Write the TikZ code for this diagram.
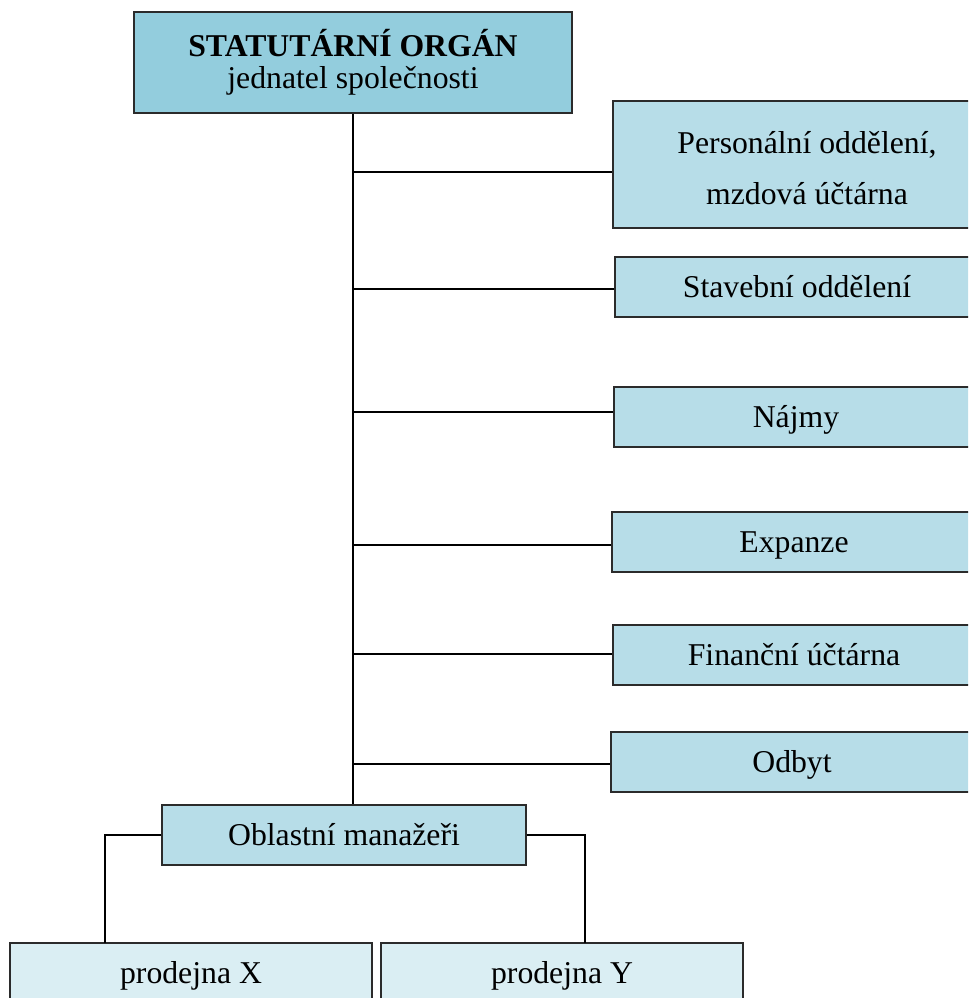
\documentclass[tikz,border=0pt]{standalone}
\usepackage{fontspec}
\setmainfont{Liberation Serif}
\definecolor{topblue}{HTML}{93CDDD}
\definecolor{midblue}{HTML}{B7DDE8}
\definecolor{lowblue}{HTML}{DAEEF3}
\definecolor{edge}{HTML}{2B2B2B}
\begin{document}
\begin{tikzpicture}[x=0.75pt,y=-0.75pt,
  box/.style={draw=edge,line width=1.1pt,inner sep=0pt,align=center,
    font=\fontsize{23.8}{24}\selectfont,minimum height=60*0.75pt},
  oneline/.style={text height=17pt,text depth=2pt},
  topbox/.style={box,fill=topblue},
  midbox/.style={box,fill=midblue},
  lowbox/.style={box,fill=lowblue,oneline},
  trunk/.style={line width=1.3pt,black},
  thin/.style={line width=0.8pt,black}]
\clip (0,0) rectangle (968,998);
\fill[white] (0,0) rectangle (968,998);
% boxes
\node[topbox,minimum width=438*0.75pt,minimum height=101*0.75pt] (top) at (353,62.5)
  {\textbf{STATUTÁRNÍ ORGÁN}\\jednatel společnosti};
\node[midbox,minimum width=388*0.75pt,minimum height=127*0.75pt] (pers) at (807,164.5)
  {\rule{0pt}{21.5pt}Personální oddělení,\\[14pt]mzdová účtárna};
\node[midbox,oneline,minimum width=364*0.75pt] (stav) at (797,287) {Stavební oddělení};
\node[midbox,oneline,minimum width=364*0.75pt] (najmy) at (796,417) {Nájmy};
\node[midbox,oneline,minimum width=364*0.75pt] (exp) at (794,542) {Expanze};
\node[midbox,oneline,minimum width=362*0.75pt] (fin) at (794,655) {Finanční účtárna};
\node[midbox,oneline,minimum width=362*0.75pt] (odb) at (792,762) {Odbyt};
\node[midbox,oneline,minimum width=364*0.75pt] (obl) at (344,835) {Oblastní manažeři};
\node[lowbox,minimum width=362*0.75pt] (px) at (191,973) {prodejna X};
\node[lowbox,minimum width=362*0.75pt] (py) at (562,973) {prodejna Y};
% trunk
\draw[trunk] (top.south) -- (top.south |- obl.north);
\coordinate (b1) at (353,172);
\coordinate (b2) at (353,289);
\coordinate (b3) at (353,412);
\coordinate (b4) at (353,545);
\coordinate (b5) at (353,654);
\coordinate (b6) at (353,764);
\foreach \b/\n in {b1/pers,b2/stav,b3/najmy,b4/exp,b5/fin,b6/odb}
  \draw[trunk] (\b) -- (\b -| \n.west);
% lower connectors
\coordinate (lx) at (105,943);
\coordinate (rx) at (585,943);
\draw[thin] (obl.west) -| (lx);
\draw[thin] (obl.east) -| (rx);
\end{tikzpicture}
\end{document}
